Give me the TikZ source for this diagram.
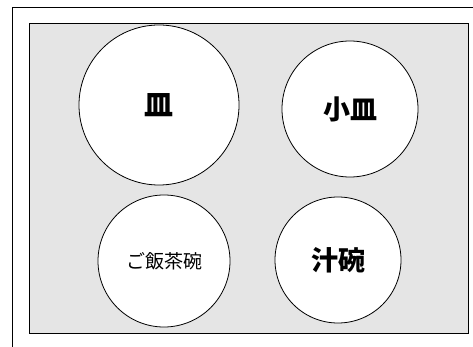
\documentclass[tikz,border=0pt]{standalone}
\usepackage{fontspec}
\newfontfamily\cjk{Noto Sans CJK JP}
\usetikzlibrary{positioning}
\tikzstyle{tray}=[draw, thick, fill=black!10]
\tikzstyle{dish}=[draw, thick, circle, fill=white, inner sep=0pt,
  text centered, font=\cjk]
\newcommand{\dish}[4]{node (#1) [dish, minimum size=#2pt, font=\cjk#3] {#4}}

\begin{document}
\begin{tikzpicture}[x=1pt,y=-1pt]
  \useasboundingbox (0,0) rectangle (473,347);

  % Draw the outer frame and the tray
  \draw [semithick] (12,347) -- (12,7) -- (473,7);
  \path [tray] (29,23) rectangle (468,333);

  % Draw dishes
  \path (159,105) \dish{sara}{160}{\fontsize{29}{29}\selectfont\bfseries}{皿};
  \path (350,109) \dish{kozara}{136}{\fontsize{27}{27}\selectfont\bfseries}{小皿};
  \path (164,261) \dish{chawan}{132}{\fontsize{19}{19}\selectfont}{ご飯茶碗};
  \path (338,260) \dish{shiruwan}{126}{\fontsize{27}{27}\selectfont\bfseries}{汁碗};
\end{tikzpicture}
\end{document}
